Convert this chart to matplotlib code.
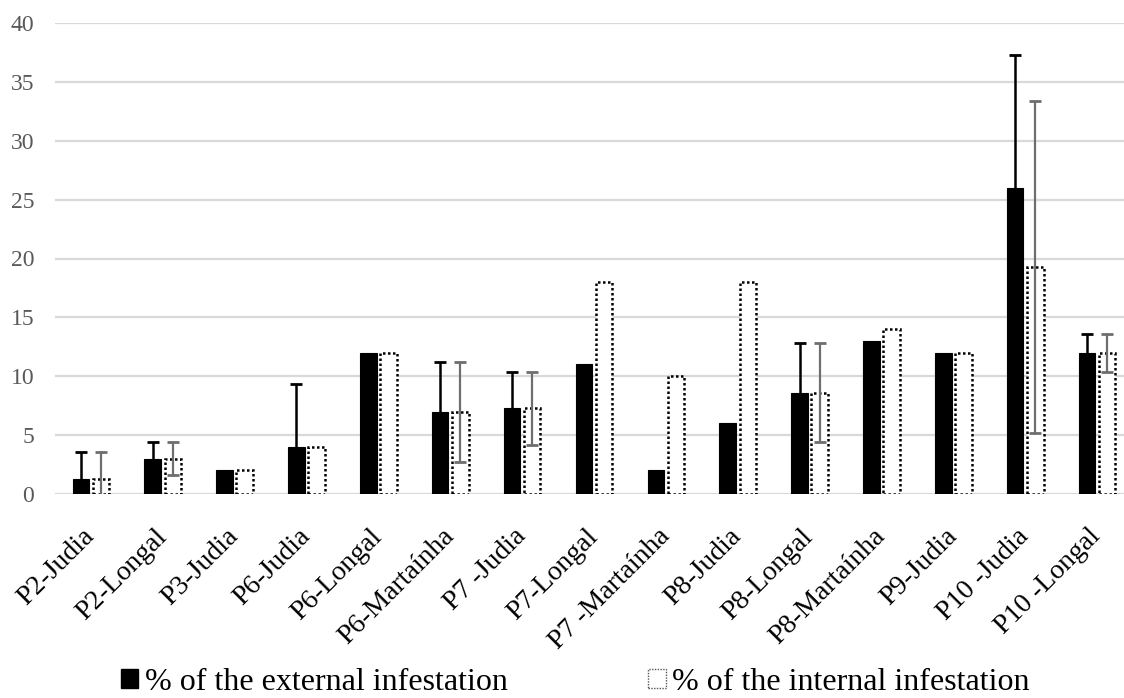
import numpy as np
import matplotlib
matplotlib.use("Agg")
import matplotlib.pyplot as plt
from matplotlib.patches import Patch

# Sample sites / cultivars
categories = ["P2-Judia", "P2-Longal", "P3-Judia", "P6-Judia", "P6-Longal",
              "P6-Martaínha", "P7 -Judia", "P7-Longal", "P7 -Martaínha",
              "P8-Judia", "P8-Longal", "P8-Martaínha", "P9-Judia",
              "P10 -Judia", "P10 -Longal"]

# % of the external infestation (mean and +/- deviation)
external = [1.3, 3.0, 2.0, 4.0, 12.0, 7.0, 7.3, 11.0, 2.0, 6.0, 8.6, 13.0, 12.0, 26.0, 12.0]
external_err = [2.3, 1.4, 0, 5.3, 0, 4.25, 3.1, 0, 0, 0, 4.2, 0, 0, 11.3, 1.6]

# % of the internal infestation (mean and +/- deviation)
internal = [1.3, 3.0, 2.0, 4.0, 12.0, 7.0, 7.3, 18.0, 10.0, 18.0, 8.6, 14.0, 12.0, 19.3, 12.0]
internal_err = [2.3, 1.4, 0, 0, 0, 4.25, 3.1, 0, 0, 0, 4.2, 0, 0, 14.1, 1.6]

y_ticks = [0, 5, 10, 15, 20, 25, 30, 35, 40]

legend_labels = ["% of the external infestation", "% of the internal infestation"]

plt.rcParams["font.family"] = ["Liberation Serif", "DejaVu Serif"]

W, H = 1124, 698
fig = plt.figure(figsize=(W / 100, H / 100), dpi=100)
ax = fig.add_axes([55 / W, 1 - 494 / H, (1133 - 55) / W, (494 - 23) / H])

x = np.arange(len(categories))
bw = 0.23
off = 0.14

ext = np.array(external)
ext_e = np.array(external_err)
inn = np.array(internal)
inn_e = np.array(internal_err)

ax.bar(x - off, ext, width=bw, color="black", edgecolor="black", linewidth=0.8, zorder=2)
ax.bar(x + off, inn, width=bw, color="white", edgecolor="black",
       linewidth=1.8, linestyle=(0, (1, 1)), zorder=2)

m = ext_e > 0
ax.errorbar(x[m] - off, ext[m], yerr=ext_e[m], fmt="none", ecolor="black",
            elinewidth=1.8, capsize=4.3, capthick=2.0, zorder=3)
m = inn_e > 0
ax.errorbar(x[m] + off, inn[m], yerr=inn_e[m], fmt="none", ecolor="#6e6e6e",
            elinewidth=1.6, capsize=4.3, capthick=2.0, zorder=3)

ax.set_xlim(-0.5, len(categories) - 0.5)
ax.set_ylim(0, 40)
ax.set_yticks(y_ticks)
ax.yaxis.grid(True, color="#d9d9d9", linewidth=1.6)
ax.set_axisbelow(True)
for s in ax.spines.values():
    s.set_visible(False)
ax.tick_params(axis="y", length=0, pad=15, labelsize=17, labelcolor="#595959")
ax.tick_params(axis="x", length=0, pad=28, labelsize=20, labelcolor="black")
ax.set_xticks(x)
ax.set_xticklabels(categories, rotation=45, ha="right", va="center",
                   rotation_mode="anchor")

handles = [
    Patch(facecolor="black", edgecolor="black"),
    Patch(facecolor="white", edgecolor="#555555", linestyle=(0, (1, 1)), linewidth=1.0),
]
fig.legend(handles, legend_labels, loc="center", ncol=2,
           bbox_to_anchor=(575 / W, 1 - 682 / H), frameon=False,
           fontsize=23, handlelength=0.55, handleheight=0.55,
           handletextpad=0.2, columnspacing=4.4, borderpad=0)

fig.savefig("out.png", dpi=100)
